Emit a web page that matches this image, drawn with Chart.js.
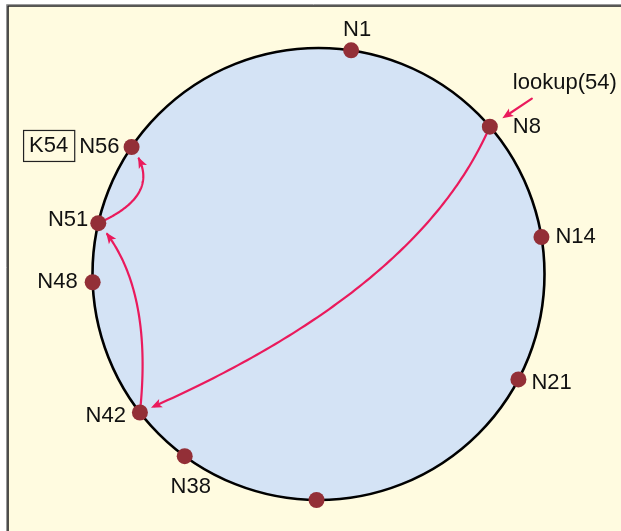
<!DOCTYPE html>
<html>
<head>
<meta charset="utf-8">
<script src="https://cdn.jsdelivr.net/npm/chart.js@4/dist/chart.umd.min.js"></script>
<style>
  html, body { margin: 0; padding: 0; background: #ffffff; }
  #c { display: block; }
</style>
</head>
<body>
<canvas id="c" width="621" height="531"></canvas>
<script>
// ---- data ----
const nodeIds     = [1, 8, 14, 21, 32, 38, 42, 48, 51, 56];
const nodeLabels  = ['N1', 'N8', 'N14', 'N21', '', 'N38', 'N42', 'N48', 'N51', 'N56'];
// position of each node on the ring, degrees clockwise from the top
const nodeAngles  = [8.3, 49.3, 80.6, 117.8, 180.5, 216.3, 232.2, 267.9, 283.0, 304.2];
// lookup path (finger-table hops)
const hopFrom     = [8, 42, 51];
const hopTo       = [42, 51, 56];
const lookupText  = 'lookup(54)';
const lookupNode  = 8;
const keyText     = 'K54';
const keyNode     = 56;

// ---- styles ----
const FONT = '22px "Liberation Sans", Arial, sans-serif';
const C_BG = '#fffbe0', C_RING = '#d4e3f5', C_DOT = '#932f37', C_ARROW = '#ea1a5c', C_TEXT = '#111111';
// label placement [dx, dy, align] relative to the node dot
const labelPlace = {
  1: [6, -20, 'center'], 8: [23, 0, 'left'], 14: [14, 0, 'left'], 21: [13, 4, 'left'],
  38: [6, 31, 'center'], 42: [-14, 3, 'right'], 48: [-15, 0, 'right'], 51: [-10, -3, 'right'],
  56: [-12, 0, 'right']
};
// cubic control points for each hop, as fractions of the chord [along, across]
const hopShape = [
  [[0.237, 0.122], [0.57, 0.122]],
  [[0.42, -0.14], [0.753, -0.14]],
  [[0.439, -0.403], [0.773, -0.403]]
];

const rad = d => d * Math.PI / 180;
const nodePoints = nodeAngles.map(a => ({ x: Math.sin(rad(a)), y: Math.cos(rad(a)) }));

function arrowHead(ctx, x, y, ang) {
  const L = 11, W = 4.5, N = 2.5;
  ctx.save();
  ctx.translate(x, y); ctx.rotate(ang);
  ctx.beginPath();
  ctx.moveTo(0, 0); ctx.lineTo(-L, -W); ctx.lineTo(-L + N, 0); ctx.lineTo(-L, W);
  ctx.closePath();
  ctx.fillStyle = C_ARROW; ctx.fill();
  ctx.restore();
}

const chordPlugin = {
  id: 'chord',
  beforeDraw(chart) {
    const ctx = chart.ctx;
    ctx.save();
    ctx.fillStyle = '#ffffff'; ctx.fillRect(0, 0, chart.width, chart.height);
    ctx.fillStyle = C_BG; ctx.fillRect(8, 6, chart.width - 8, chart.height - 6);
    ctx.strokeStyle = '#9a9a9a'; ctx.lineWidth = 1;
    ctx.beginPath(); ctx.moveTo(6.5, chart.height); ctx.lineTo(6.5, 4.5); ctx.lineTo(chart.width, 4.5); ctx.stroke();
    ctx.strokeStyle = '#222'; ctx.lineWidth = 1.6;
    ctx.beginPath(); ctx.moveTo(8, chart.height); ctx.lineTo(8, 6); ctx.lineTo(chart.width, 6); ctx.stroke();
    ctx.restore();
  },
  beforeDatasetsDraw(chart) {
    const ctx = chart.ctx, xs = chart.scales.x, ys = chart.scales.y;
    const cx = xs.getPixelForValue(0), cy = ys.getPixelForValue(0);
    const rx = xs.getPixelForValue(1) - cx, ry = cy - ys.getPixelForValue(1);
    ctx.save();
    ctx.beginPath(); ctx.ellipse(cx, cy, rx, ry, 0, 0, Math.PI * 2);
    ctx.fillStyle = C_RING; ctx.fill();
    ctx.lineWidth = 2.6; ctx.strokeStyle = '#000'; ctx.stroke();

    const pts = chart.getDatasetMeta(0).data;
    const pos = id => { const p = pts[nodeIds.indexOf(id)]; return { x: p.x, y: p.y }; };
    ctx.strokeStyle = C_ARROW; ctx.lineWidth = 2.2; ctx.lineCap = 'round';
    hopFrom.forEach((f, i) => {
      const P0 = pos(f), P3 = pos(hopTo[i]);
      const dx = P3.x - P0.x, dy = P3.y - P0.y;
      const toPx = ([u, v]) => ({ x: P0.x + u * dx + v * dy, y: P0.y + u * dy - v * dx });
      const C1 = toPx(hopShape[i][0]), C2 = toPx(hopShape[i][1]);
      const B = t => {
        const s = 1 - t;
        return { x: s*s*s*P0.x + 3*s*s*t*C1.x + 3*s*t*t*C2.x + t*t*t*P3.x,
                 y: s*s*s*P0.y + 3*s*s*t*C1.y + 3*s*t*t*C2.y + t*t*t*P3.y };
      };
      let tEnd = 1;
      for (let t = 1; t > 0; t -= 0.002) {
        const b = B(t);
        if (Math.hypot(b.x - P3.x, b.y - P3.y) >= 12) { tEnd = t; break; }
      }
      ctx.beginPath();
      const b0 = B(0); ctx.moveTo(b0.x, b0.y);
      for (let t = 0.01; t < tEnd; t += 0.01) { const b = B(t); ctx.lineTo(b.x, b.y); }
      const be = B(tEnd), bp = B(tEnd - 0.03);
      const ang = Math.atan2(be.y - bp.y, be.x - bp.x);
      ctx.lineTo(be.x - 6 * Math.cos(ang), be.y - 6 * Math.sin(ang));
      ctx.stroke();
      arrowHead(ctx, be.x, be.y, ang);
    });
    // lookup arrow
    const n8 = pos(lookupNode);
    const sx = n8.x + 42, sy = n8.y - 28;
    const ang = Math.atan2(n8.y - sy, n8.x - sx);
    const ex = n8.x - 15 * Math.cos(ang), ey = n8.y - 15 * Math.sin(ang);
    ctx.beginPath(); ctx.moveTo(sx, sy); ctx.lineTo(ex - 6 * Math.cos(ang), ey - 6 * Math.sin(ang)); ctx.stroke();
    arrowHead(ctx, ex, ey, ang);
    ctx.restore();
  },
  afterDatasetsDraw(chart) {
    const ctx = chart.ctx;
    const pts = chart.getDatasetMeta(0).data;
    ctx.save();
    ctx.font = FONT; ctx.fillStyle = C_TEXT; ctx.textBaseline = 'middle';
    nodeIds.forEach((id, i) => {
      if (!nodeLabels[i]) return;
      const [dx, dy, al] = labelPlace[id];
      ctx.textAlign = al;
      ctx.fillText(nodeLabels[i], pts[i].x + dx, pts[i].y + dy);
    });
    // lookup text
    const n8 = pts[nodeIds.indexOf(lookupNode)];
    ctx.textAlign = 'left';
    ctx.fillText(lookupText, n8.x + 23, n8.y - 44);
    // key box next to its successor's label
    const kn = pts[nodeIds.indexOf(keyNode)];
    const lblW = ctx.measureText(nodeLabels[nodeIds.indexOf(keyNode)]).width;
    const right = kn.x + labelPlace[keyNode][0] - lblW - 5;
    const kw = ctx.measureText(keyText).width;
    const bx = right - kw - 12, by = kn.y - 17;
    ctx.strokeStyle = '#222'; ctx.lineWidth = 1.2;
    ctx.strokeRect(bx + 0.5, by + 0.5, kw + 12, 31);
    ctx.textAlign = 'center';
    ctx.fillText(keyText, bx + (kw + 12) / 2, kn.y - 1);
    ctx.restore();
  }
};

const R = 226, CX = 318.5, CY = 274, W = 621, H = 531;
new Chart(document.getElementById('c'), {
  type: 'scatter',
  data: {
    datasets: [{
      data: nodePoints,
      pointRadius: 8,
      pointBackgroundColor: C_DOT,
      pointBorderWidth: 0,
      pointHoverRadius: 8
    }]
  },
  options: {
    responsive: false,
    animation: false,
    devicePixelRatio: 1,
    layout: { padding: 0, autoPadding: false },
    plugins: { legend: { display: false }, tooltip: { enabled: false } },
    scales: {
      x: { type: 'linear', display: false, min: -CX / R, max: (W - CX) / R },
      y: { type: 'linear', display: false, min: -(H - CY) / R, max: CY / R }
    }
  },
  plugins: [chordPlugin]
});
</script>
</body>
</html>
